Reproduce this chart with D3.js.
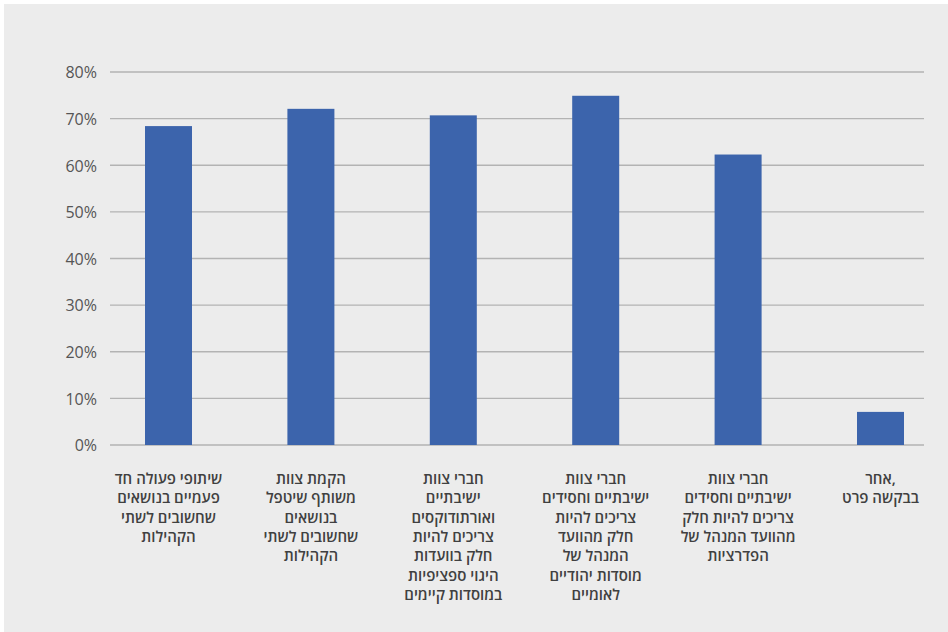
<!DOCTYPE html>
<html><head><meta charset="utf-8">
<script src="https://cdn.jsdelivr.net/npm/d3@7"></script>
<style>html,body{margin:0;padding:0;background:#fff;}svg{display:block;}</style>
</head><body>
<svg id="chart" width="948" height="632"></svg>
<script>
const categories = [
  "שיתופי פעולה חד\nפעמיים בנושאים\nשחשובים לשתי\nהקהילות",
  "הקמת צוות\nמשותף שיטפל\nבנושאים\nשחשובים לשתי\nהקהילות",
  "חברי צוות\nישיבתיים\nואורתודוקסים\nצריכים להיות\nחלק בוועדות\nהיגוי ספציפיות\nבמוסדות קיימים",
  "חברי צוות\nישיבתיים וחסידים\nצריכים להיות\nחלק מהוועד\nהמנהל של\nמוסדות יהודיים\nלאומיים",
  "חברי צוות\nישיבתיים וחסידים\nצריכים להיות חלק\nמהוועד המנהל של\nהפדרציות",
  "אחר,\nבבקשה פרט"
];
const values = [0.684, 0.721, 0.707, 0.749, 0.623, 0.071];
const yTicks = [0, 0.1, 0.2, 0.3, 0.4, 0.5, 0.6, 0.7, 0.8];

const svg = d3.select("#chart");
svg.append("rect").attr("x", 4).attr("y", 4).attr("width", 944).attr("height", 628).attr("fill", "#ececec");

const y = d3.scaleLinear().domain([0, 0.8]).range([445, 72]);
const x = d3.scaleBand().domain(d3.range(categories.length)).range([97.3, 951.7]).paddingInner(0.67).paddingOuter(0.335);

const font = "'Open Sans', 'Noto Sans', sans-serif";

// gridlines
svg.append("g").selectAll("line").data(yTicks).join("line")
  .attr("x1", 110).attr("x2", 924)
  .attr("y1", d => y(d)).attr("y2", d => y(d))
  .attr("stroke", "#b3b3b3").attr("stroke-width", 1.4);

// y axis labels
const yAxis = d3.axisLeft(y).tickValues(yTicks).tickFormat(d3.format(".0%")).tickSize(0).tickPadding(0);
const ga = svg.append("g").attr("transform", "translate(97,0)").call(yAxis);
ga.select(".domain").remove();
ga.selectAll("text").attr("font-family", font).attr("font-size", 16).attr("fill", "#555555").attr("dy", "0.55em").attr("y", -3);

// bars
svg.append("g").selectAll("rect").data(values).join("rect")
  .attr("x", (d, i) => x(i)).attr("width", x.bandwidth())
  .attr("y", d => y(d)).attr("height", d => y(0) - y(d))
  .attr("fill", "#3c64ac");

// category labels
const lab = svg.append("g").selectAll("text").data(categories).join("text")
  .attr("x", (d, i) => x(i) + x.bandwidth() / 2)
  .attr("y", 484)
  .attr("text-anchor", "middle")
  .attr("font-family", font).attr("font-size", 15).attr("font-weight", 600)
  .attr("fill", "#404040");
lab.each(function(d, i) {
  const t = d3.select(this);
  d.split("\n").forEach((line, j) => {
    t.append("tspan").attr("x", x(i) + x.bandwidth() / 2).attr("y", 484 + j * 19.3).text(line);
  });
});
</script>
</body></html>
